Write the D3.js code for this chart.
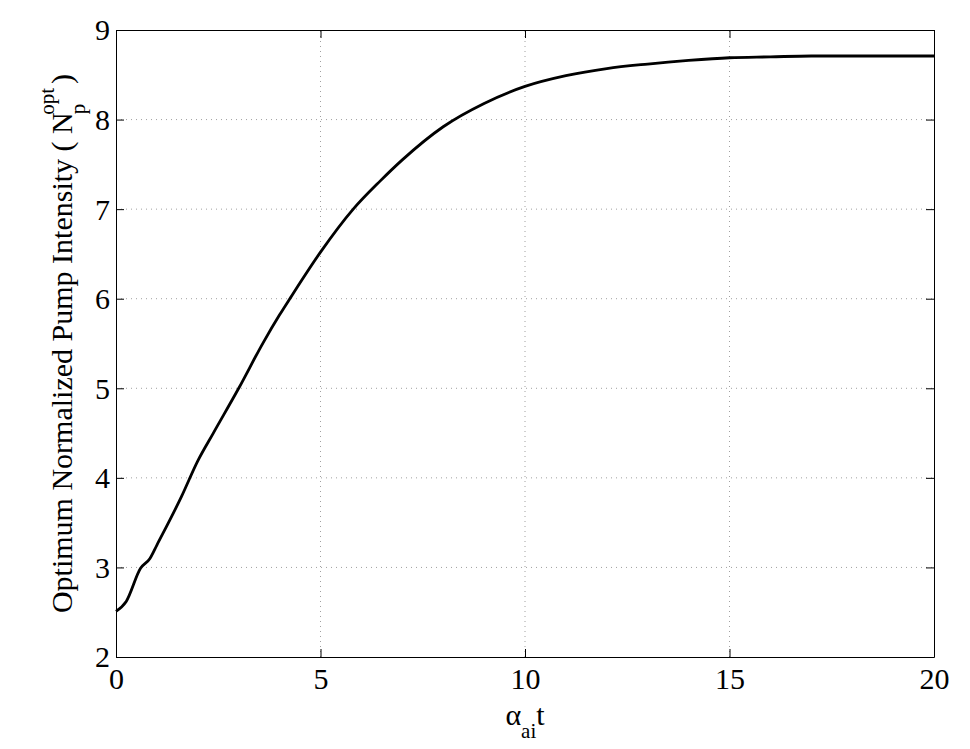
<!DOCTYPE html>
<html>
<head>
<meta charset="utf-8">
<script src="https://cdn.jsdelivr.net/npm/d3@7"></script>
<style>
  body { margin: 0; background: #fff; }
  svg text { font-family: "Liberation Serif", "Times New Roman", serif; fill: #000; }
</style>
</head>
<body>
<svg id="chart" width="970" height="749"></svg>
<script>
// curve
const xVals = [0, 0.25, 0.6, 0.83, 1, 1.6, 2, 2.38, 3, 3.6, 4, 4.25, 5, 5.8, 6.45, 7,
  8, 9, 10, 11, 12, 13, 14, 15, 16, 17, 18, 19, 20];
const yVals = [2.51, 2.62, 2.99, 3.10, 3.25, 3.79, 4.19, 4.50, 5.0, 5.51, 5.82, 6.0, 6.52, 7.0, 7.31, 7.55,
  7.92, 8.18, 8.37, 8.49, 8.57, 8.62, 8.66, 8.69, 8.70, 8.71, 8.71, 8.71, 8.71];
const xTicks = [0, 5, 10, 15, 20];
const yTicks = [2, 3, 4, 5, 6, 7, 8, 9];

const margin = { left: 116, top: 30, right: 36, bottom: 92 };
const W = 970, H = 749;
const FONT = "30px";
const svg = d3.select("#chart");

const x = d3.scaleLinear().domain([0, 20]).range([margin.left, W - margin.right]);
const y = d3.scaleLinear().domain([2, 9]).range([H - margin.bottom, margin.top]);

// dotted grid
const grid = svg.append("g").attr("stroke", "#a0a0a0").attr("stroke-width", 1)
  .attr("stroke-dasharray", "1,4");
xTicks.slice(1, -1).forEach(t => {
  grid.append("line").attr("x1", x(t)).attr("x2", x(t)).attr("y1", y(2)).attr("y2", y(9));
});
yTicks.slice(1, -1).forEach(t => {
  grid.append("line").attr("x1", x(0)).attr("x2", x(20)).attr("y1", y(t)).attr("y2", y(t));
});

// axes with inward ticks (MATLAB style), box on all four sides
const tickLen = 8;
const fmt = d3.format("d");
const axB = svg.append("g").attr("transform", `translate(0,${y(2)})`)
  .call(d3.axisBottom(x).tickValues(xTicks).tickFormat(fmt).tickSizeInner(-tickLen).tickSizeOuter(0).tickPadding(11));
const axT = svg.append("g").attr("transform", `translate(0,${y(9)})`)
  .call(d3.axisTop(x).tickValues(xTicks).tickSizeInner(-tickLen).tickSizeOuter(0).tickFormat(""));
const axL = svg.append("g").attr("transform", `translate(${x(0)},0)`)
  .call(d3.axisLeft(y).tickValues(yTicks).tickFormat(fmt).tickSizeInner(-tickLen).tickSizeOuter(0).tickPadding(6));
const axR = svg.append("g").attr("transform", `translate(${x(20)},0)`)
  .call(d3.axisRight(y).tickValues(yTicks).tickSizeInner(-tickLen).tickSizeOuter(0).tickFormat(""));

[axB, axT, axL, axR].forEach(g => {
  g.attr("font-family", null).attr("font-size", null);
  g.selectAll("path, line").attr("stroke", "#000").attr("stroke-width", 1);
  g.selectAll("text").style("font-size", FONT).attr("fill", "#000");
});
axB.selectAll("text").attr("dy", "0.71em");
axL.selectAll("text").attr("dy", "0.33em");

// curve
const pts = xVals.map((v, i) => [v, yVals[i]]);
svg.append("path")
  .datum(pts)
  .attr("fill", "none")
  .attr("stroke", "#000")
  .attr("stroke-width", 2.8)
  .attr("stroke-linejoin", "round")
  .attr("d", d3.line().x(d => x(d[0])).y(d => y(d[1])).curve(d3.curveMonotoneX));

// x label: alpha_ai t
const xl = svg.append("text").attr("x", (x(0) + x(20)) / 2).attr("y", 725)
  .attr("text-anchor", "middle").style("font-size", FONT);
xl.append("tspan").text("α");
xl.append("tspan").attr("dy", 13).style("font-size", "21px").text("ai");
xl.append("tspan").attr("dy", -13).text("t");

// y label: Optimum Normalized Pump Intensity ( N_p^opt )
const cy = (y(2) + y(9)) / 2;
const yl = svg.append("text")
  .attr("transform", `translate(72,${cy}) rotate(-90)`)
  .attr("text-anchor", "middle").style("font-size", FONT);
yl.append("tspan").text("Optimum Normalized Pump Intensity ( N");
yl.append("tspan").attr("dy", 13).attr("dx", -2).style("font-size", "21px").text("p");
yl.append("tspan").attr("dy", -31).attr("dx", -11).style("font-size", "21px").text("opt");
yl.append("tspan").attr("dy", 18).attr("dx", 4).text(")");
</script>
</body>
</html>
